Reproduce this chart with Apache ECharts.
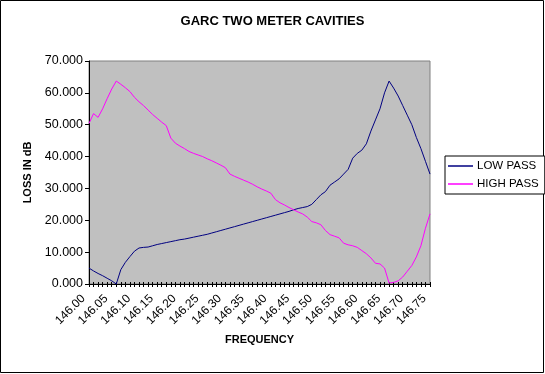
<!DOCTYPE html>
<html><head><meta charset="utf-8">
<script src="https://cdn.jsdelivr.net/npm/echarts@6/dist/echarts.min.js"></script>
<style>html,body{margin:0;padding:0;background:#fff}#c{width:545px;height:374px}</style>
</head><body><div id="c"></div>
<script>
// Frequencies 146.00 .. 146.75 MHz
const frequencies = ["146.00","146.01","146.02","146.03","146.04","146.05","146.06","146.07","146.08","146.09",
"146.10","146.11","146.12","146.13","146.14","146.15","146.16","146.17","146.18","146.19",
"146.20","146.21","146.22","146.23","146.24","146.25","146.26","146.27","146.28","146.29",
"146.30","146.31","146.32","146.33","146.34","146.35","146.36","146.37","146.38","146.39",
"146.40","146.41","146.42","146.43","146.44","146.45","146.46","146.47","146.48","146.49",
"146.50","146.51","146.52","146.53","146.54","146.55","146.56","146.57","146.58","146.59",
"146.60","146.61","146.62","146.63","146.64","146.65","146.66","146.67","146.68","146.69",
"146.70","146.71","146.72","146.73","146.74","146.75"];
const lowPass = [5.0,4.1,3.3,2.6,1.8,1.0,0.0,4.5,6.8,8.6,
10.3,11.3,11.5,11.6,12.0,12.4,12.7,13.0,13.3,13.6,
13.9,14.1,14.4,14.7,15.0,15.3,15.6,16.0,16.4,16.8,
17.2,17.6,18.0,18.4,18.8,19.2,19.6,20.0,20.4,20.8,
21.2,21.6,22.0,22.4,22.8,23.3,23.7,24.0,24.3,25.0,
26.5,28.0,29.0,31.0,32.0,33.0,34.5,36.0,39.5,41.0,
42.0,44.0,48.0,51.5,55.0,60.0,63.7,61.5,59.0,56.0,
53.0,50.0,46.0,42.5,38.5,34.5];
const highPass = [50.4,53.5,52.3,55.0,58.2,61.2,63.7,62.7,61.6,60.4,
58.6,57.2,56.0,54.6,53.2,52.0,50.8,49.7,45.8,44.2,
43.3,42.5,41.6,41.0,40.5,40.0,39.3,38.7,38.0,37.3,
36.5,34.5,33.8,33.2,32.6,32.0,31.3,30.5,29.8,29.2,
28.5,26.5,25.5,24.8,24.0,23.3,22.6,22.0,21.0,19.6,
19.2,18.6,16.8,15.5,15.0,14.5,12.8,12.3,12.0,11.5,
10.5,9.5,8.2,6.5,6.3,5.0,0.3,0.5,1.0,2.2,
4.0,5.8,8.5,12.0,17.5,22.0];
const seriesNames = ["LOW PASS","HIGH PASS"];
const yTicks = {min:0,max:70,interval:10};

const font = "Arial, 'Liberation Sans', sans-serif";
const chart = echarts.init(document.getElementById('c'), null, {renderer:'canvas'});
chart.setOption({
  animation:false,
  backgroundColor:'#ffffff',
  title:{text:'GARC TWO METER CAVITIES',left:'center',top:10,
    textStyle:{fontFamily:font,fontSize:13,fontWeight:'bold',color:'#000'}},
  grid:{left:89,top:61,right:115,bottom:90,show:true,backgroundColor:'#C0C0C0',borderColor:'#808080',borderWidth:1},
  legend:{orient:'vertical',left:445,top:156,data:seriesNames,
    backgroundColor:'#fff',borderColor:'#000',borderWidth:1,padding:[4,6,4,3],itemGap:6,
    icon:'rect',itemWidth:25,itemHeight:1.5,
    textStyle:{fontFamily:font,fontSize:11.5,color:'#000',padding:[0,0,0,-1]}},
  xAxis:[{type:'category',data:frequencies,boundaryGap:false,
    name:'FREQUENCY',nameLocation:'middle',nameGap:50,
    nameTextStyle:{fontFamily:font,fontSize:11,fontWeight:'bold',color:'#000'},
    axisLine:{lineStyle:{color:'#000',width:1}},
    axisTick:{interval:0,length:3,lineStyle:{color:'#000'}},
    axisLabel:{interval:4,rotate:45,margin:7,padding:[0,8,0,0],fontFamily:font,fontSize:12,color:'#000'},
    splitLine:{show:false}},
   {type:'category',data:frequencies,boundaryGap:false,position:'bottom',
    axisLine:{show:false},axisTick:{interval:0,inside:true,length:2,lineStyle:{color:'#000'}},
    axisLabel:{show:false},splitLine:{show:false}}],
  yAxis:{type:'value',min:yTicks.min,max:yTicks.max,interval:yTicks.interval,
    name:'LOSS IN dB',nameLocation:'middle',nameGap:52,nameRotate:90,
    nameTextStyle:{fontFamily:font,fontSize:11,fontWeight:'bold',color:'#000'},
    axisLine:{show:true,lineStyle:{color:'#000',width:1}},
    axisTick:{show:true,length:4,lineStyle:{color:'#000'}},
    axisLabel:{margin:6,fontFamily:font,fontSize:12.5,color:'#000',formatter:v=>v.toFixed(3)},
    splitLine:{show:false}},
  series:[
    {name:seriesNames[0],type:'line',data:lowPass,symbol:'none',lineStyle:{color:'#000080',width:1},itemStyle:{color:'#000080'}},
    {name:seriesNames[1],type:'line',data:highPass,symbol:'none',lineStyle:{color:'#FF00FF',width:1},itemStyle:{color:'#FF00FF'}}
  ],
  graphic:[{type:'rect',shape:{x:0.5,y:0.5,width:543,height:372},style:{fill:null,stroke:'#000',lineWidth:1},silent:true,z:-1}]
});
</script></body></html>
